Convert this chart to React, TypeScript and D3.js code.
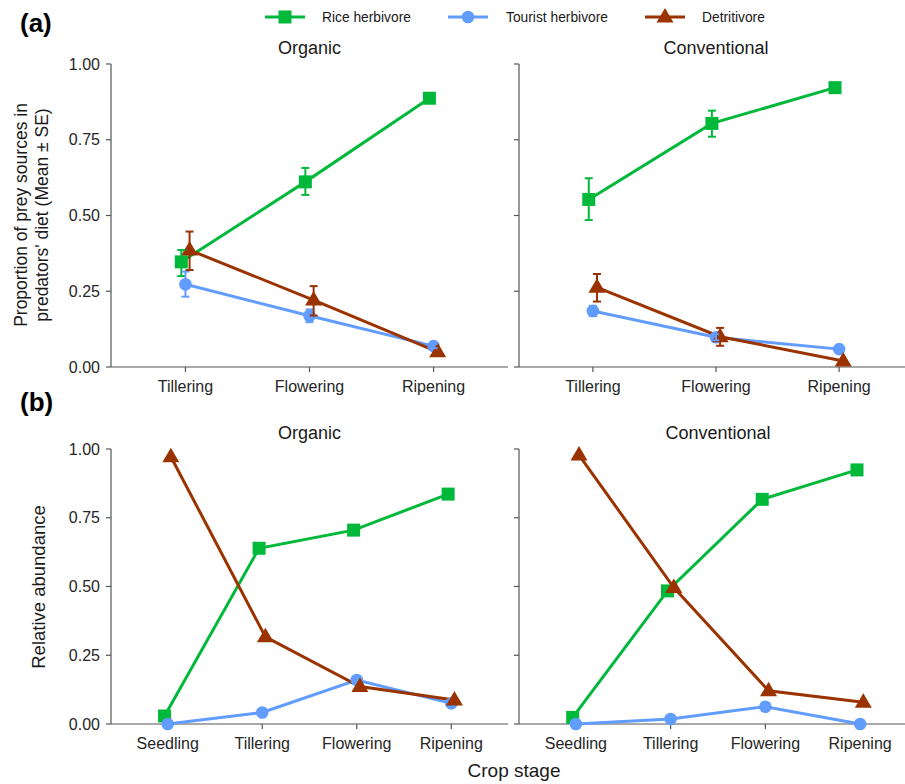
import React from "react";
import * as d3 from "d3";

const seriesNames = ["Rice herbivore", "Tourist herbivore", "Detritivore"];
const seriesColors = ["#00B93A", "#619CFF", "#9A3300"];
const seriesShapes = ["square", "circle", "triangle"];

const stagesA = ["Tillering", "Flowering", "Ripening"];
const stagesB = ["Seedling", "Tillering", "Flowering", "Ripening"];
const yTicks = [0, 0.25, 0.5, 0.75, 1];

// (a) Organic: mean, lower, upper
const aOrgRice = [0.347, 0.611, 0.887];
const aOrgRiceLo = [0.30, 0.568, 0.887];
const aOrgRiceHi = [0.386, 0.657, 0.887];
const aOrgTour = [0.273, 0.169, 0.069];
const aOrgTourLo = [0.232, 0.148, 0.062];
const aOrgTourHi = [0.315, 0.19, 0.076];
const aOrgDet = [0.386, 0.221, 0.05];
const aOrgDetLo = [0.32, 0.17, 0.05];
const aOrgDetHi = [0.447, 0.267, 0.05];

// (a) Conventional
const aConRice = [0.553, 0.804, 0.922];
const aConRiceLo = [0.485, 0.76, 0.922];
const aConRiceHi = [0.623, 0.846, 0.922];
const aConTour = [0.185, 0.098, 0.059];
const aConTourLo = [0.168, 0.088, 0.059];
const aConTourHi = [0.202, 0.108, 0.059];
const aConDet = [0.263, 0.1, 0.02];
const aConDetLo = [0.216, 0.07, 0.02];
const aConDetHi = [0.307, 0.129, 0.02];

// (b) relative abundance
const bOrgRice = [0.029, 0.639, 0.705, 0.836];
const bOrgTour = [0.0, 0.042, 0.16, 0.075];
const bOrgDet = [0.972, 0.317, 0.136, 0.087];
const bConRice = [0.024, 0.484, 0.817, 0.924];
const bConTour = [0.0, 0.018, 0.063, 0.0];
const bConDet = [0.978, 0.496, 0.121, 0.079];

const FONT = "Liberation Sans, Arial, sans-serif";
const TXT = "#262626";

function Marker({ shape, x, y, color }: any) {
  if (shape === "square") return <rect x={x - 6.5} y={y - 6.5} width={13} height={13} fill={color} />;
  if (shape === "circle") return <circle cx={x} cy={y} r={6.3} fill={color} />;
  const h = 14.5, w = 17;
  return <path d={`M${x},${y - h * 0.62}L${x + w / 2},${y + h * 0.38}L${x - w / 2},${y + h * 0.38}Z`} fill={color} />;
}

function Panel({ x0, x1, y0, y1, stages, means, los, his, title, showY }: any) {
  const x = d3.scalePoint().domain(stages).range([x0, x1]).padding(0.6);
  const y = d3.scaleLinear().domain([0, 1]).range([y1, y0]);
  const step = x.step();
  const dodge = (i: number) => (i - 1) * step * 0.1 / 3;
  const line = d3.line<[number, number]>().x((d) => d[0]).y((d) => d[1]);
  return (
    <g>
      <text x={(x0 + x1) / 2} y={y0 - 10} textAnchor="middle" fontSize={18} fill="#1a1a1a" fontFamily={FONT}>{title}</text>
      <line x1={x0} x2={x0} y1={y0} y2={y1} stroke="#555" strokeWidth={1.2} />
      <line x1={x0} x2={x1} y1={y1} y2={y1} stroke="#555" strokeWidth={1.2} />
      {yTicks.map((t) => (
        <g key={t}>
          <line x1={x0 - 5} x2={x0} y1={y(t)} y2={y(t)} stroke="#555" strokeWidth={1.2} />
          {showY && (
            <text x={x0 - 11} y={y(t) + 5.5} textAnchor="end" fontSize={16} fill={TXT} fontFamily={FONT}>{t.toFixed(2)}</text>
          )}
        </g>
      ))}
      {stages.map((s: string) => (
        <g key={s}>
          <line x1={x(s)} x2={x(s)} y1={y1} y2={y1 + 5} stroke="#555" strokeWidth={1.2} />
          <text x={x(s)} y={y1 + 24.5} textAnchor="middle" fontSize={16} fill={TXT} fontFamily={FONT}>{s}</text>
        </g>
      ))}
      {means.map((vals: number[], i: number) => (
        <path key={"l" + i} d={line(vals.map((v, j) => [(x(stages[j]) as number) + dodge(i), y(v)])) as string}
          fill="none" stroke={seriesColors[i]} strokeWidth={3} />
      ))}
      {means.map((vals: number[], i: number) =>
        vals.map((v, j) => (
          <Marker key={"m" + i + j} shape={seriesShapes[i]} x={(x(stages[j]) as number) + dodge(i)} y={y(v)} color={seriesColors[i]} />
        ))
      )}
      {los && los.map((lo: number[], i: number) =>
        lo.map((l, j) => {
          const h = his[i][j];
          if (Math.abs(h - l) < 0.001) return null;
          const cx = (x(stages[j]) as number) + dodge(i);
          return (
            <g key={"e" + i + j} stroke={seriesColors[i]} strokeWidth={2}>
              <line x1={cx} x2={cx} y1={y(l)} y2={y(h)} />
              <line x1={cx - 4} x2={cx + 4} y1={y(l)} y2={y(l)} />
              <line x1={cx - 4} x2={cx + 4} y1={y(h)} y2={y(h)} />
            </g>
          );
        })
      )}
    </g>
  );
}

export default function App() {
  const legendX = [265, 448, 645];
  const legendTextX = [322, 506, 702];
  return (
    <svg width={905} height={784} style={{ position: "absolute", left: 0, top: 0, background: "#fff" }}>
      <rect width={905} height={784} fill="#fff" />
      <text x={20} y={32} fontSize={26} fontWeight="bold" fontFamily={FONT} fill="#000">(a)</text>
      <text x={20} y={411} fontSize={26} fontWeight="bold" fontFamily={FONT} fill="#000">(b)</text>
      {seriesNames.map((n, i) => (
        <g key={n}>
          <line x1={legendX[i]} x2={legendX[i] + 40} y1={17} y2={17} stroke={seriesColors[i]} strokeWidth={3} />
          <Marker shape={seriesShapes[i]} x={legendX[i] + 20} y={17} color={seriesColors[i]} />
          <text x={legendTextX[i]} y={22} fontSize={13.8} fontFamily={FONT} fill="#1a1a1a">{n}</text>
        </g>
      ))}
      <Panel x0={111} x1={508} y0={64} y1={367} stages={stagesA} title="Organic" showY
        means={[aOrgRice, aOrgTour, aOrgDet]} los={[aOrgRiceLo, aOrgTourLo, aOrgDetLo]} his={[aOrgRiceHi, aOrgTourHi, aOrgDetHi]} />
      <Panel x0={519} x1={913} y0={64} y1={367} stages={stagesA} title="Conventional"
        means={[aConRice, aConTour, aConDet]} los={[aConRiceLo, aConTourLo, aConDetLo]} his={[aConRiceHi, aConTourHi, aConDetHi]} />
      <Panel x0={111} x1={508} y0={449} y1={724} stages={stagesB} title="Organic" showY
        means={[bOrgRice, bOrgTour, bOrgDet]} />
      <Panel x0={519} x1={917} y0={449} y1={724} stages={stagesB} title="Conventional"
        means={[bConRice, bConTour, bConDet]} />
      <text transform="translate(27,215) rotate(-90)" textAnchor="middle" fontSize={17.5} fontFamily={FONT} fill="#1a1a1a">Proportion of prey sources in</text>
      <text transform="translate(48,215) rotate(-90)" textAnchor="middle" fontSize={17.5} fontFamily={FONT} fill="#1a1a1a">predators' diet (Mean ± SE)</text>
      <text transform="translate(45,587) rotate(-90)" textAnchor="middle" fontSize={18.5} fontFamily={FONT} fill="#1a1a1a">Relative abundance</text>
      <text x={514} y={777} textAnchor="middle" fontSize={19} fontFamily={FONT} fill="#1a1a1a">Crop stage</text>
    </svg>
  );
}
